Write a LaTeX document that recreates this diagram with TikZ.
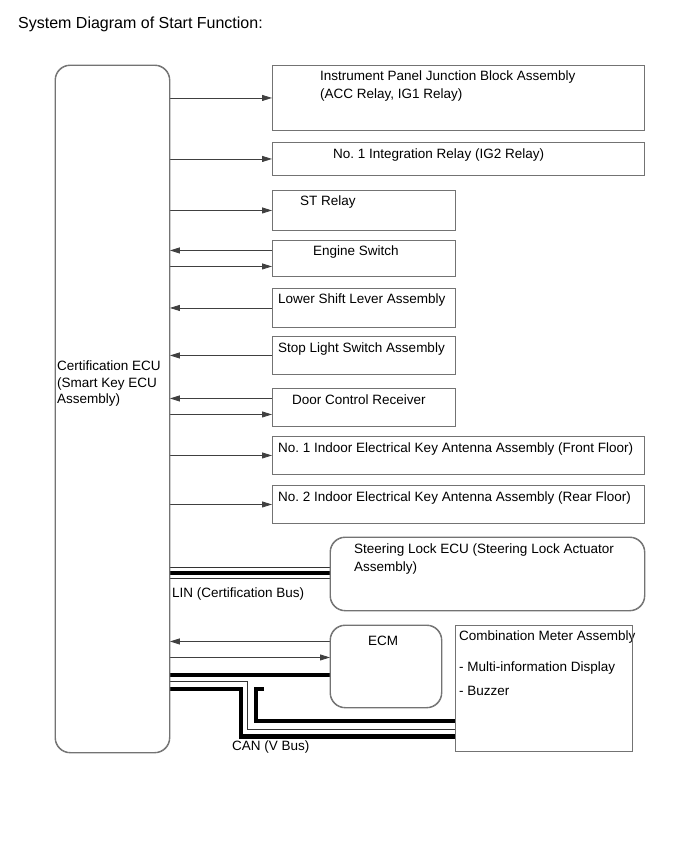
\documentclass[tikz,border=0pt]{standalone}
\usepackage{fontspec}
\setmainfont{Liberation Sans}
\usetikzlibrary{arrows.meta}
\frenchspacing
\begin{document}
\begin{tikzpicture}[x=1pt,y=-1pt,
 boxr/.style={draw=black!55, line width=0.9pt, rounded corners=15pt, anchor=north west, inner sep=0pt},
 boxs/.style={draw=black!55, line width=0.9pt, anchor=north west, inner sep=0pt},
 txt/.style={anchor=base west, inner sep=0pt, font=\fontsize{13.5}{16}\selectfont},
 arr/.style={draw=black!75, line width=0.8pt, -{Triangle[length=10pt,width=6pt]}},
 busk/.style={line width=4.5pt, black, line join=miter},
 busn/.style={line width=0.9pt, black!80, line join=miter},
]
\useasboundingbox (0,0) rectangle (691,855);

\node[anchor=base west, inner sep=0pt, font=\fontsize{16}{19}\selectfont] (title) at (18,28) {System Diagram of Start Function:};

% boxes (geometry)
\node[boxr, minimum width=114pt, minimum height=687pt] (ecu) at (55,65) {};
\node[boxs, minimum width=372pt, minimum height=65pt] (ipjb) at (272,65) {};
\node[boxs, minimum width=372pt, minimum height=33pt] (intg) at (272,142) {};
\node[boxs, minimum width=183pt, minimum height=40pt] (st) at (272,190) {};
\node[boxs, minimum width=183pt, minimum height=36pt] (eng) at (272,240) {};
\node[boxs, minimum width=183pt, minimum height=39pt] (low) at (272,288) {};
\node[boxs, minimum width=183pt, minimum height=38pt] (stop) at (272,336) {};
\node[boxs, minimum width=183pt, minimum height=38pt] (door) at (272,388) {};
\node[boxs, minimum width=372pt, minimum height=38pt] (ind1) at (272,436) {};
\node[boxs, minimum width=372pt, minimum height=38pt] (ind2) at (272,485) {};
\node[boxr, minimum width=314pt, minimum height=73pt] (steer) at (330,537) {};
\node[boxr, minimum width=111pt, minimum height=82pt] (ecm) at (330,625) {};
\node[boxs, minimum width=177pt, minimum height=126pt] (meter) at (455,625) {};

% texts
\node[txt] (tecu1) at (57,370) {Certification ECU};
\node[txt] (tecu2) at (57,387) {(Smart Key ECU};
\node[txt] (tecu3) at (57,403) {Assembly)};
\node[txt] (tipjb1) at (320,80) {Instrument Panel Junction Block Assembly};
\node[txt] (tipjb2) at (320,98) {(ACC Relay, IG1 Relay)};
\node[txt] (tintg) at (333,158) {No. 1 Integration Relay (IG2 Relay)};
\node[txt] (tst) at (300,205) {ST Relay};
\node[txt] (teng) at (313,255) {Engine Switch};
\node[txt] (tlow) at (278,303) {Lower Shift Lever Assembly};
\node[txt] (tstop) at (278,352) {Stop Light Switch Assembly};
\node[txt] (tdoor) at (292,404) {Door Control Receiver};
\node[txt] (tind1) at (278,452) {No. 1 Indoor Electrical Key Antenna Assembly (Front Floor)};
\node[txt] (tind2) at (278,501) {No. 2 Indoor Electrical Key Antenna Assembly (Rear Floor)};
\node[txt] (tsteer1) at (354,553) {Steering Lock ECU (Steering Lock Actuator};
\node[txt] (tsteer2) at (354,571) {Assembly)};
\node[txt] (tlin) at (172,597) {LIN (Certification Bus)};
\node[txt] (tecm) at (368,645) {ECM};
\node[txt] (tmet1) at (459,640) {Combination Meter Assembly};
\node[txt] (tmet2) at (459,671) {- Multi-information Display};
\node[txt] (tmet3) at (459,695) {- Buzzer};
\node[txt] (tcan) at (232,750) {CAN (V Bus)};

% single arrows
\draw[arr] (ecu.east |- ipjb.west) -- (ipjb.west);
\draw[arr] (ecu.east |- intg.west) -- (intg.west);
\draw[arr] (ecu.east |- st.west) -- (st.west);
\coordinate (e1) at ([yshift=8pt]eng.west);
\coordinate (e2) at ([yshift=-8pt]eng.west);
\draw[arr] (e1) -- (ecu.east |- e1);
\draw[arr] (ecu.east |- e2) -- (e2);
\draw[arr] (low.west) -- (ecu.east |- low.west);
\draw[arr] (stop.west) -- (ecu.east |- stop.west);
\coordinate (d1) at ([yshift=9pt]door.west);
\coordinate (d2) at ([yshift=-7pt]door.west);
\draw[arr] (d1) -- (ecu.east |- d1);
\draw[arr] (ecu.east |- d2) -- (d2);
\draw[arr] (ecu.east |- ind1.west) -- (ind1.west);
\draw[arr] (ecu.east |- ind2.west) -- (ind2.west);
\coordinate (m1) at ([yshift=25pt]ecm.west);
\coordinate (m2) at ([yshift=9pt]ecm.west);
\draw[arr] (m1) -- (ecu.east |- m1);
\draw[arr] (ecu.east |- m2) -- (m2);

% LIN bus
\coordinate (l1) at ([yshift=1pt]steer.west);
\draw[line width=12pt, black!80] (ecu.east |- l1) -- (l1);
\draw[line width=10pt, white] (ecu.east |- l1) -- (l1);
\draw[busk] (ecu.east |- l1) -- (l1);

% CAN bus
\coordinate (c1) at ([yshift=-8.5pt]ecm.west);
\draw[busk] (ecu.east |- c1) -- (c1);
\coordinate (t1) at (247.5,681);
\coordinate (t2) at (247.5,729);
\draw[busn] (ecu.east |- t1) -- (t1) -- (t2) -- (meter.west |- t2);
\coordinate (o1) at (241,689);
\coordinate (o2) at (241,736.5);
\draw[busk] (ecu.east |- o1) -- (o1) -- (o2) -- (meter.west |- o2);
\coordinate (i0) at (264,689);
\coordinate (i1) at (256,689);
\coordinate (i2) at (256,721);
\draw[busk] (i0) -- (i1) -- (i2) -- (meter.west |- i2);

% redraw borders on top
\draw[draw=black!55, line width=0.9pt, rounded corners=15pt] (ecu.north west) rectangle (ecu.south east);
\draw[draw=black!55, line width=0.9pt, rounded corners=15pt] (steer.north west) rectangle (steer.south east);
\draw[draw=black!55, line width=0.9pt, rounded corners=15pt] (ecm.north west) rectangle (ecm.south east);
\draw[draw=black!55, line width=0.9pt] (meter.north west) rectangle (meter.south east);
\end{tikzpicture}
\end{document}
